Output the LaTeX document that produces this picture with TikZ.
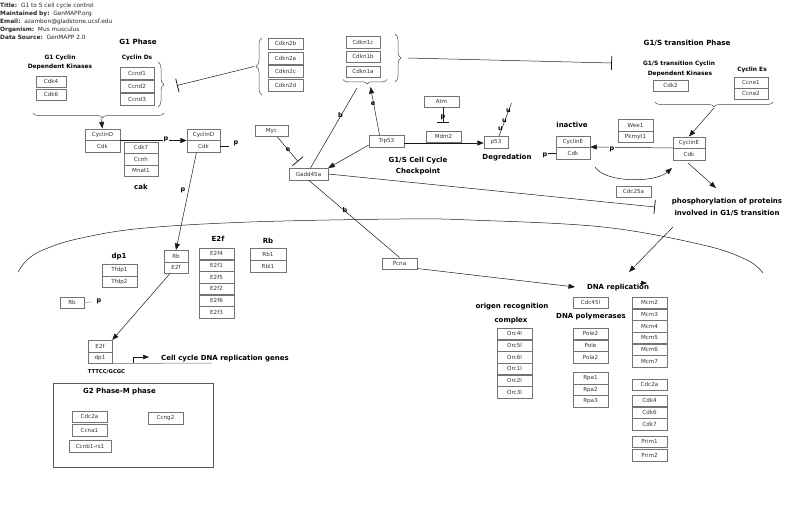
\documentclass[tikz,border=0pt]{standalone}
\usepackage{fontspec}
\setmainfont{DejaVu Sans}
\usetikzlibrary{arrows.meta,decorations.pathreplacing}
\begin{document}
\begin{tikzpicture}[x=1pt,y=-1pt,
  gb/.style={draw=black!55, fill=white, line width=0.5pt, minimum width=35pt, minimum height=11.5pt, inner sep=0pt, font=\fontsize{5.6}{6.2}\selectfont, text=black!80},
  hd/.style={anchor=west, inner sep=0pt, font=\fontsize{5.85}{6.5}\selectfont, text=black!85},
  lab/.style={inner sep=0pt, font=\bfseries\fontsize{5.9}{6.5}\selectfont},
  big/.style={inner sep=0pt, font=\bfseries\fontsize{7.1}{8}\selectfont},
  mid/.style={inner sep=0pt, font=\bfseries\fontsize{7}{8}\selectfont},
  pl/.style={inner sep=0.4pt, font=\bfseries\fontsize{6.5}{7}\selectfont},
  ln/.style={draw=black!90, line width=0.5pt},
  arr/.style={ln, -{Triangle[length=6.5pt,width=5pt]}},
  inh/.style={ln, -{Bar[width=14pt,line width=0.8pt]}},
  br/.style={draw=black!70, line width=0.5pt, decorate, decoration={brace, amplitude=#1}},
]
\useasboundingbox (0,0) rectangle (800,525);

% ---------- header ----------
\node[hd] (h1) at (0,6.2) {\textbf{Title:}\ \ G1 to S cell cycle control};
\node[hd] (h2) at (0,14.2) {\textbf{Maintained by:}\ \ GenMAPP.org};
\node[hd] (h3) at (0,22.2) {\textbf{Email:}\ \ azambon@gladstone.ucsf.edu};
\node[hd] (h4) at (0,30) {\textbf{Organism:}\ \ Mus musculus};
\node[hd] (h5) at (0,37.7) {\textbf{Data Source:}\ \ GenMAPP 2.0};

% ---------- G1 phase ----------
\node[big] (g1) at (138,42) {G1 Phase};
\node[lab] (g1c) at (60,57.5) {G1 Cyclin};
\node[lab] (g1d) at (60,66.5) {Dependent Kinases};
\node[lab] (cds) at (137,58) {Cyclin Ds};
\node[gb, minimum width=30pt] (cdk4) at (51,81.5) {Cdk4};
\node[gb, minimum width=30pt] (cdk6) at (51,94.5) {Cdk6};
\node[gb, minimum width=34pt] (ccnd1) at (137,73) {Ccnd1};
\node[gb, minimum width=34pt] (ccnd2) at (137,86) {Ccnd2};
\node[gb, minimum width=34pt] (ccnd3) at (137,99) {Ccnd3};
\draw[br=6pt] (158,62) -- (158,107);
\draw[br=5pt, decoration={aspect=0.47}] (164,113) -- (33,113);
\coordinate (g1tip) at (101,118.5);

\node[gb] (cd1a) at (102.5,134.5) {CyclinD};
\node[gb] (cd1b) at (102.5,146) {Cdk};
\node[gb, minimum width=33pt] (cd2a) at (203.5,134.5) {CyclinD};
\node[gb, minimum width=33pt] (cd2b) at (203.5,146) {Cdk};
\node[gb, minimum width=34pt] (cdk7) at (141,147.5) {Cdk7};
\node[gb, minimum width=34pt] (ccnh) at (141,159) {Ccnh};
\node[gb, minimum width=34pt] (mnat1) at (141,170.5) {Mnat1};
\node[mid] (cak) at (141,187) {cak};

\draw[arr] (g1tip) -- (cd1a.north);
\draw[arr] (cd1a.south east) -- (cd2a.south west);
\node[pl, fill=white] (p1) at (166,139) {p};
\coordinate (p2s) at (229,146);
\draw[ln] (cd2b.east) -- (p2s);
\node[pl] (p2) at (236,143.5) {p};

% ---------- Cdkn groups ----------
\node[gb] (cdkn2b) at (285.5,43.5) {Cdkn2b};
\node[gb] (cdkn2a) at (285.5,58) {Cdkn2a};
\node[gb] (cdkn2c) at (285.5,71) {Cdkn2c};
\node[gb] (cdkn2d) at (285.5,85) {Cdkn2d};
\draw[br=6pt] (262,95) -- (262,38);
\coordinate (c2tip) at (254,66.5);
\coordinate (ccndbar) at (177,85.5);
\draw[inh] (c2tip) -- (ccndbar);

\node[gb, minimum width=34pt] (cdkn1c) at (363,42) {Cdkn1c};
\node[gb, minimum width=34pt] (cdkn1b) at (363,56.5) {Cdkn1b};
\node[gb, minimum width=34pt] (cdkn1a) at (363,71.5) {Cdkn1a};
\draw[br=6pt] (395,34) -- (395,82);
\draw[br=4.5pt, decoration={aspect=0.45}] (387,79.5) -- (343,79.5);
\coordinate (c1tip) at (408,58);
\coordinate (c1bar) at (612,63);
\draw[inh] (c1tip) -- (c1bar);
\coordinate (c1bL) at (357,88);
\coordinate (c1bR) at (370.5,87);

% ---------- checkpoint ----------
\node[gb, minimum width=33pt, minimum height=11pt] (myc) at (271.5,131) {Myc};
\node[gb, minimum width=39pt] (gadd) at (308.5,174) {Gadd45a};
\node[gb] (trp53) at (386.5,141) {Trp53};
\node[gb, minimum height=11pt] (atm) at (441.5,101.5) {Atm};
\node[gb, minimum width=35pt, minimum height=11pt] (mdm2) at (443.5,136.5) {Mdm2};
\node[gb, minimum width=24pt] (p53) at (496,142) {p53};

\coordinate (mycbar) at (298,161.5);
\draw[inh] (myc.south east) ++(-11,0) -- (mycbar);
\node[pl] (e1) at (288,149.5) {e};
\draw[ln] (gadd.north) ++(2,0) -- (c1bL);
\node[pl] (b1) at (340.5,115.5) {b};
\draw[arr] (trp53.north) ++(-7,0) -- (c1bR);
\node[pl] (e2) at (373,104) {e};
\draw[arr] (trp53.west) ++(0,4) -- (gadd.north east);
\draw[arr] (trp53.east) ++(0,2) -- (p53.west |- 0,143);
\coordinate (atmbar) at (443,123);
\draw[inh, -{Bar[width=12pt,line width=0.8pt]}] (atm.south) ++(1.5,0) -- (atmbar);
\node[pl] (p3) at (443,117) {p};
\coordinate (ubq) at (511.5,103);
\draw[ln] (p53.north) ++(3,0) -- (ubq);
\node[pl] (u1) at (500.5,128.5) {u};
\node[pl] (u2) at (504.5,120.5) {u};
\node[pl] (u3) at (508.5,111) {u};
\node[mid] (deg) at (507,158) {Degredation};
\node[mid] (cc1) at (418,160.5) {G1/S Cell Cycle};
\node[mid] (cc2) at (418,172) {Checkpoint};

% ---------- G1/S transition ----------
\node[big] (g1s) at (687,43) {G1/S transition Phase};
\node[lab] (g1sc) at (679,64) {G1/S transition Cyclin};
\node[lab] (g1sd) at (680,74) {Dependent Kinases};
\node[lab] (ces) at (752,70) {Cyclin Es};
\node[gb] (cdk2) at (670.5,85.5) {Cdk2};
\node[gb, minimum width=34pt, minimum height=11pt] (ccne1) at (751,82.5) {Ccne1};
\node[gb, minimum width=34pt, minimum height=11pt] (ccne2) at (751,93.5) {Ccne2};
\draw[br=5pt] (773,102) -- (655,102);
\coordinate (g1stip) at (714,108);

\node[mid] (inact) at (572,125) {inactive};
\node[gb, minimum width=34pt] (ce1a) at (573,141.5) {CyclinE};
\node[gb, minimum width=34pt] (ce1b) at (573,153) {Cdk};
\coordinate (p4s) at (548,153);
\draw[ln] (ce1b.west) -- (p4s);
\node[pl] (p4) at (545,155) {p};
\node[gb, minimum width=35pt] (wee1) at (635.5,125) {Wee1};
\node[gb, minimum width=35pt] (pkmyt1) at (635.5,136.5) {Pkmyt1};
\node[gb, minimum width=32pt] (ce2a) at (689,142.5) {CyclinE};
\node[gb, minimum width=32pt] (ce2b) at (689,154) {Cdk};
\draw[arr] (g1stip) -- (ce2a.north);
\draw[arr] (ce2b.north west) -- (ce1b.north east);
\node[pl, fill=white] (p5) at (612,149.5) {p};
\coordinate (cv1) at (595,167);
\coordinate (cv2) at (672,168);
\draw[arr] (cv1) .. controls (605,183) and (655,183) .. (cv2);
\node[gb, minimum width=35pt] (cdc25a) at (633.5,191.5) {Cdc25a};
\coordinate (gbar) at (655,207);
\draw[inh] (gadd.east) -- (gbar);
\node[mid] (ph1) at (727,202) {phosphorylation of proteins};
\node[mid] (ph2) at (727,213) {involved in G1/S transition};
\coordinate (phin) at (716,188);
\draw[arr] (ce2b.south) ++(-1,3) -- (phin);

% ---------- big arc ----------
\draw[ln] plot[smooth, tension=0.6] coordinates {(18,272) (27,260) (43,250) (77,239) (140,228.5) (250,222) (400,219) (470,220) (603,227) (703,245) (747,260) (763,273)};

% ---------- lower part ----------
\node[gb, minimum width=24pt] (rba) at (176,256) {Rb};
\node[gb, minimum width=24pt] (rbb) at (176,267.5) {E2f};
\draw[arr] (cd2b.south) ++(-7,0.5) -- (rba.north);
\node[pl] (p6) at (183,190) {p};
\node[mid] (e2flab) at (218,239) {E2f};
\node[gb] (e2f4) at (216.5,253.8) {E2f4};
\node[gb] (e2f1) at (216.5,265.5) {E2f1};
\node[gb] (e2f5) at (216.5,277.2) {E2f5};
\node[gb] (e2f2) at (216.5,288.8) {E2f2};
\node[gb] (e2f6) at (216.5,300.5) {E2f6};
\node[gb] (e2f3) at (216.5,312.2) {E2f3};
\node[mid] (rblab) at (268,241) {Rb};
\node[gb, minimum width=36pt] (rb1) at (268,254) {Rb1};
\node[gb, minimum width=36pt] (rbl1) at (268,266) {Rbl1};
\node[mid] (dp1lab) at (119,257) {dp1};
\node[gb] (tfdp1) at (119.5,270) {Tfdp1};
\node[gb] (tfdp2) at (119.5,281.5) {Tfdp2};
\node[gb, minimum width=24pt] (rbs) at (72,302.5) {Rb};
\coordinate (p7s) at (92,302);
\draw[ln, draw=black!45] (rbs.east) -- (p7s);
\node[pl] (p7) at (99,301) {p};

\node[gb, minimum width=24pt] (edE) at (100,346) {E2f};
\node[gb, minimum width=24pt] (edD) at (100,357.5) {dp1};
\draw[arr] (rbb.south) ++(-6,0) -- (edE.north east);
\coordinate (dnaend) at (212,363);
\draw[ln, draw=black!60] (edD.south east) -- (dnaend);
\coordinate (gs) at (133,363);
\draw[arr, -{Triangle[length=6pt,width=4.5pt]}] (gs) -- ++(0,-6) -- ++(16,0);
\node[mid, anchor=west] (ccg) at (161,359) {Cell cycle DNA replication genes};
\node[inner sep=0pt, font=\bfseries\fontsize{5.3}{6}\selectfont] (ttt) at (106.5,372) {TTTCC/GCGC};

\node[draw=black!65, line width=0.6pt, minimum width=160pt, minimum height=84pt, inner sep=0pt] (g2box) at (133,425) {};
\node[mid] (g2lab) at (119.5,392) {G2 Phase-M phase};
\node[gb] (g2cdc2a) at (89.5,416.5) {Cdc2a};
\node[gb] (g2ccna1) at (89.5,430) {Ccna1};
\node[gb, minimum width=42pt] (ccnb1) at (90,446) {Ccnb1-rs1};
\node[gb] (ccng2) at (165.5,418) {Ccng2};

% ---------- Pcna / DNA replication ----------
\node[gb] (pcna) at (399.5,263.5) {Pcna};
\draw[ln] (gadd.south) -- (pcna.north);
\node[pl] (b2) at (345,210) {b};
\coordinate (dnain) at (575,287);
\draw[arr] (pcna.south east) ++(0,-1) -- (dnain);
\coordinate (phout) at (673,227);
\coordinate (dnain2) at (629,272);
\draw[arr] (phout) -- (dnain2);
\node[mid] (dnarep) at (618,287.5) {DNA replication};
\coordinate (sa1) at (640,283);
\coordinate (sa2) at (647,283);
\draw[arr, -{Triangle[length=6pt,width=4.5pt]}] (sa1) -- (sa2);

\node[mid] (orclab1) at (512,307) {origen recognition};
\node[mid] (orclab2) at (511,321) {complex};
\node[gb] (orc4) at (514.5,333.8) {Orc4l};
\node[gb] (orc5) at (514.5,345.5) {Orc5l};
\node[gb] (orc6) at (514.5,357.2) {Orc6l};
\node[gb] (orc1) at (514.5,368.8) {Orc1l};
\node[gb] (orc2) at (514.5,380.5) {Orc2l};
\node[gb] (orc3) at (514.5,392.2) {Orc3l};

\node[gb] (cdc45) at (590.5,302.5) {Cdc45l};
\node[mid] (pollab) at (591,316.5) {DNA polymerases};
\node[gb] (pole2) at (590.5,333.8) {Pole2};
\node[gb] (pole) at (590.5,345.5) {Pole};
\node[gb] (pola2) at (590.5,357.2) {Pola2};
\node[gb] (rpa1) at (590.5,378) {Rpa1};
\node[gb] (rpa2) at (590.5,389.5) {Rpa2};
\node[gb] (rpa3) at (590.5,401) {Rpa3};

\node[gb] (mcm2) at (649.5,302.8) {Mcm2};
\node[gb] (mcm3) at (649.5,314.5) {Mcm3};
\node[gb] (mcm4) at (649.5,326.2) {Mcm4};
\node[gb] (mcm5) at (649.5,337.8) {Mcm5};
\node[gb] (mcm6) at (649.5,349.5) {Mcm6};
\node[gb] (mcm7) at (649.5,361.2) {Mcm7};
\node[gb] (rcdc2a) at (649.5,384.5) {Cdc2a};
\node[gb] (rcdk4) at (649.5,400.8) {Cdk4};
\node[gb] (rcdk6) at (649.5,412.5) {Cdk6};
\node[gb] (rcdk7) at (649.5,424.2) {Cdk7};
\node[gb] (prim1) at (649.5,441.5) {Prim1};
\node[gb] (prim2) at (649.5,455) {Prim2};
\end{tikzpicture}
\end{document}
